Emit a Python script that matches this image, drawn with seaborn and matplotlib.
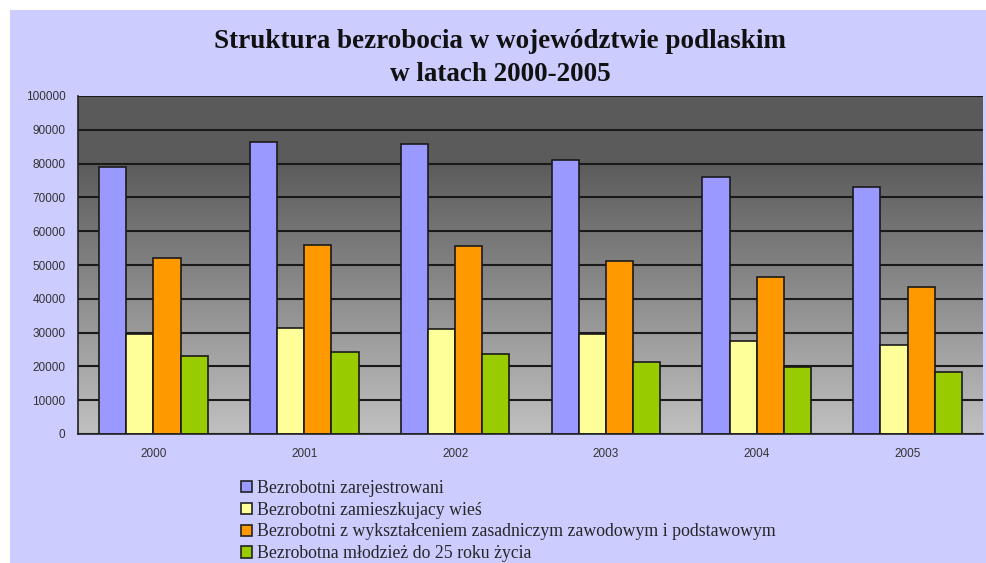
import numpy as np
import pandas as pd
import matplotlib
matplotlib.use("Agg")
import matplotlib.pyplot as plt
import seaborn as sns
from matplotlib.patches import Rectangle
from matplotlib.colors import LinearSegmentedColormap

years = ["2000", "2001", "2002", "2003", "2004", "2005"]
series_names = [
    "Bezrobotni zarejestrowani",
    "Bezrobotni zamieszkujacy wieś",
    "Bezrobotni z wykształceniem zasadniczym zawodowym i podstawowym",
    "Bezrobotna młodzież do 25 roku życia",
]
registered = [79000, 86300, 85800, 81100, 76000, 73100]
rural = [29600, 31500, 31100, 29500, 27500, 26300]
vocational = [52000, 55900, 55600, 51200, 46500, 43600]
youth = [23100, 24400, 23600, 21200, 19700, 18300]
colors = ["#9999ff", "#ffff99", "#ff9900", "#99cc00"]
title = "Struktura bezrobocia w województwie podlaskim\nw latach 2000-2005"

rows = []
for name, vals in zip(series_names, [registered, rural, vocational, youth]):
    for y, v in zip(years, vals):
        rows.append({"Rok": y, "Seria": name, "Wartość": v})
df = pd.DataFrame(rows)

sns.set_theme(style="white")
plt.rcParams['font.family'] = ['Liberation Sans', 'DejaVu Sans']

W, H = 986, 563
fig = plt.figure(figsize=(W / 100, H / 100), dpi=100)
fig.patch.set_facecolor("white")
fig.patches.append(Rectangle((10 / W, 0), 1, 1 - 10 / H, transform=fig.transFigure,
                             facecolor="#ccccff", edgecolor="none", zorder=-10))

ax = fig.add_axes([78 / W, 1 - 434 / H, (983 - 78) / W, (434 - 96) / H])

# gradient background
cmap = LinearSegmentedColormap.from_list("g", [(0, "#c0c0c0"), (0.8, "#5c5c5c"), (1, "#5a5a5a")])
grad = np.linspace(0, 1, 256).reshape(-1, 1)
ax.imshow(grad, extent=[0, 1, 0, 1], transform=ax.transAxes, origin="lower",
          cmap=cmap, aspect="auto", zorder=0)

sns.barplot(data=df, x="Rok", y="Wartość", hue="Seria", hue_order=series_names,
            palette=colors, width=0.72, edgecolor="#1a1a1a", linewidth=1.2,
            saturation=1, ax=ax, zorder=3, legend=True)

ax.set_ylim(0, 100000)
ax.set_xlim(-0.5, 5.5)
ax.set_yticks(np.arange(0, 100001, 10000))
ax.set_yticklabels([str(v) for v in range(0, 100001, 10000)], fontsize=8.5, color="#333333")
ax.set_xticks(range(len(years)))
ax.set_xticklabels(years, fontsize=8.5, color="#333333")
ax.set_xticks(np.arange(-0.5, 5.6, 1), minor=True)
ax.tick_params(axis="x", which="major", length=0, pad=10)
ax.tick_params(axis="x", which="minor", length=4, width=1, color="#222222", direction="out")
ax.tick_params(axis="y", which="major", length=5, width=1, color="#222222", direction="out", pad=4)
ax.set_xlabel("")
ax.set_ylabel("")
ax.grid(axis="y", color="#1a1a1a", linewidth=1.5, zorder=1)
ax.set_axisbelow(True)
for s in ["top", "right"]:
    ax.spines[s].set_visible(False)
for s in ["left", "bottom"]:
    ax.spines[s].set_color("#222222")
    ax.spines[s].set_linewidth(1.2)
ax.spines["bottom"].set_zorder(5)

handles, labels = ax.get_legend_handles_labels()
ax.get_legend().remove()
leg = fig.legend(handles, labels, loc="upper left", bbox_to_anchor=(232 / W, 1 - 471 / H),
                 frameon=False, handlelength=0.6, handleheight=0.6, handletextpad=0.3,
                 labelspacing=0.27, borderpad=0,
                 prop={"family": "Liberation Serif", "size": 12.8})
for h in leg.legend_handles:
    h.set_edgecolor("#222222")
    h.set_linewidth(1.2)

fig.text(500 / W, 1 - 58 / H, title, ha="center", va="center", fontsize=19.5,
         fontweight="bold", family="Liberation Serif", color="#111111", linespacing=1.4)

fig.savefig("out.png", dpi=100)
